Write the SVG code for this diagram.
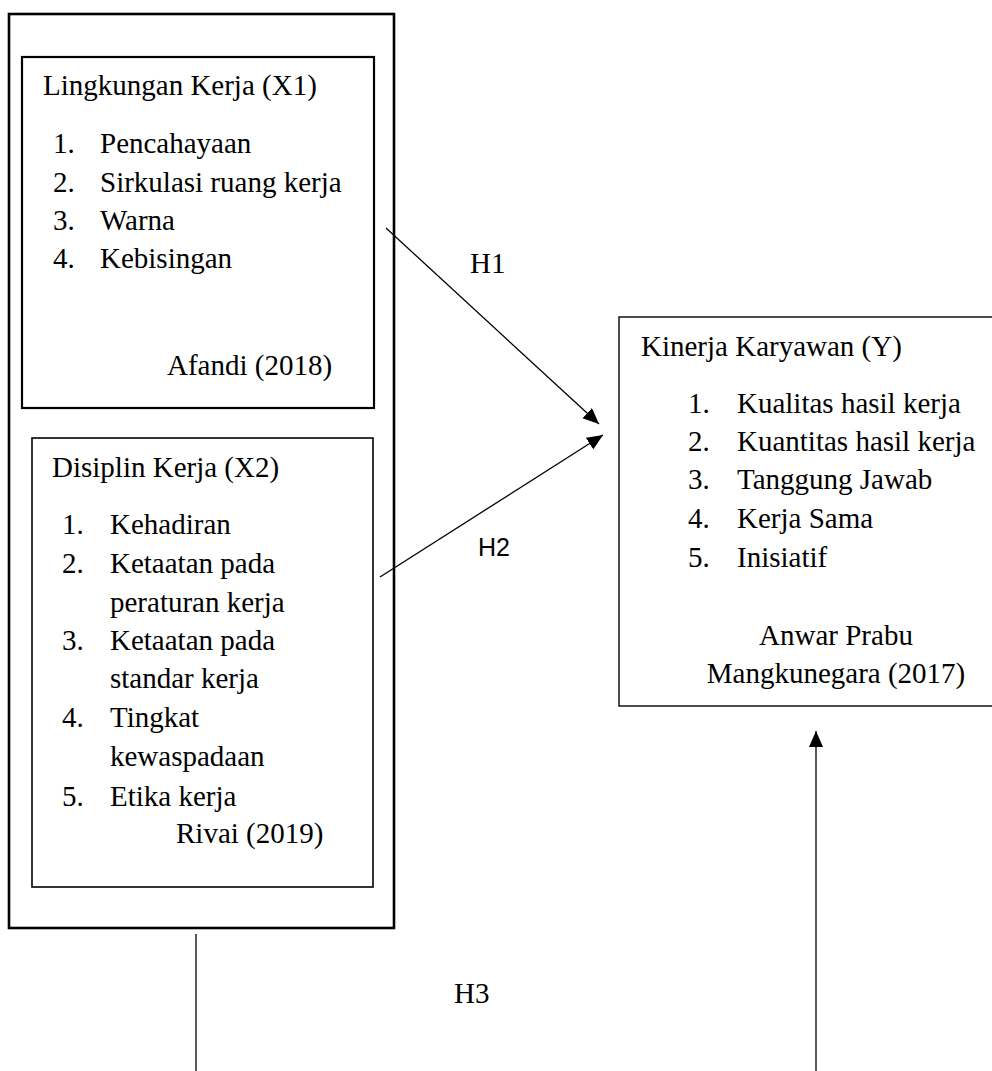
<svg xmlns="http://www.w3.org/2000/svg" width="992" height="1071" viewBox="0 0 992 1071">
<style>
.box{fill:none;stroke:#000}
.t{font-family:"Liberation Serif","Times New Roman",serif;font-size:29px;fill:#000}
.s{font-family:"Liberation Sans",Arial,sans-serif;font-size:25px;fill:#000}
.c{fill:none;stroke:#000;stroke-width:1.3}
</style>
<defs>
<marker id="ah" markerUnits="userSpaceOnUse" markerWidth="17" markerHeight="15" refX="16" refY="7" orient="auto">
<path d="M0,0 L16,7 L0,14 z" fill="#000"/>
</marker>
</defs>
<rect fill="#fff" width="992" height="1071"/>
<g id="outer">
<rect class="box" x="9" y="14" width="385" height="914" stroke-width="2.6"/>
</g>
<g id="x1">
<rect class="box" x="22" y="57" width="352" height="351" stroke-width="2.2"/>
<text class="t" x="43" y="95">Lingkungan Kerja (X1)</text>
<text class="t" x="53" y="153">1.</text><text class="t" x="100" y="153">Pencahayaan</text>
<text class="t" x="53" y="192">2.</text><text class="t" x="100" y="192">Sirkulasi ruang kerja</text>
<text class="t" x="53" y="230">3.</text><text class="t" x="100" y="230">Warna</text>
<text class="t" x="53" y="268">4.</text><text class="t" x="100" y="268">Kebisingan</text>
<text class="t" x="167" y="375">Afandi (2018)</text>
</g>
<g id="x2">
<rect class="box" x="32" y="438" width="341" height="449" stroke-width="1.6"/>
<text class="t" x="52" y="477">Disiplin Kerja (X2)</text>
<text class="t" x="62" y="534">1.</text><text class="t" x="110" y="534">Kehadiran</text>
<text class="t" x="62" y="573">2.</text><text class="t" x="110" y="573">Ketaatan pada</text>
<text class="t" x="110" y="612">peraturan kerja</text>
<text class="t" x="62" y="650">3.</text><text class="t" x="110" y="650">Ketaatan pada</text>
<text class="t" x="110" y="688">standar kerja</text>
<text class="t" x="62" y="727">4.</text><text class="t" x="110" y="727">Tingkat</text>
<text class="t" x="110" y="766">kewaspadaan</text>
<text class="t" x="62" y="806">5.</text><text class="t" x="110" y="806">Etika kerja</text>
<text class="t" x="176" y="843">Rivai (2019)</text>
</g>
<g id="y">
<rect class="box" x="619" y="317" width="380" height="389" stroke-width="1.4"/>
<text class="t" x="641" y="356">Kinerja Karyawan (Y)</text>
<text class="t" x="688" y="413">1.</text><text class="t" x="737" y="413">Kualitas hasil kerja</text>
<text class="t" x="688" y="451">2.</text><text class="t" x="737" y="451">Kuantitas hasil kerja</text>
<text class="t" x="688" y="489">3.</text><text class="t" x="737" y="489">Tanggung Jawab</text>
<text class="t" x="688" y="528">4.</text><text class="t" x="737" y="528">Kerja Sama</text>
<text class="t" x="688" y="567">5.</text><text class="t" x="737" y="567">Inisiatif</text>
<text class="t" x="836" y="645" text-anchor="middle">Anwar Prabu</text>
<text class="t" x="836" y="683" text-anchor="middle">Mangkunegara (2017)</text>
</g>
<g id="connectors">
<line class="c" x1="386" y1="228" x2="599" y2="424" marker-end="url(#ah)"/>
<line class="c" x1="380" y1="577" x2="603" y2="435" marker-end="url(#ah)"/>
<line class="c" x1="196" y1="934" x2="196" y2="1071"/>
<line class="c" x1="816" y1="1071" x2="816" y2="731" marker-end="url(#ah)"/>
<text class="t" x="470" y="273" font-size="28">H1</text>
<text class="s" x="478" y="556">H2</text>
<text class="t" x="454" y="1003" font-size="28">H3</text>
</g>
</svg>
